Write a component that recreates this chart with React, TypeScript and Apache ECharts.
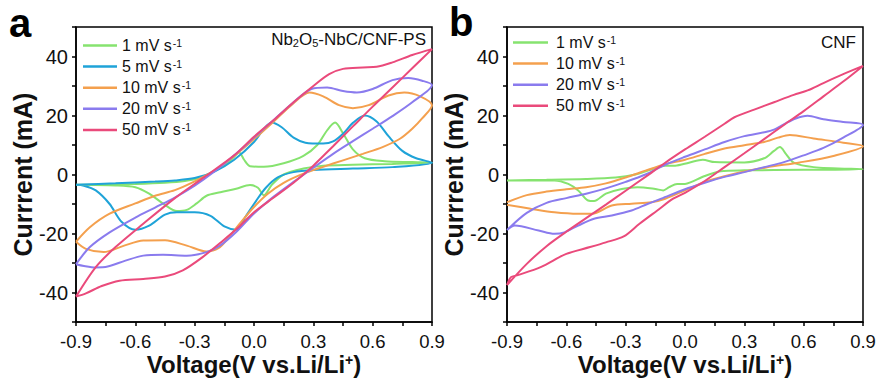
import React, { useEffect, useRef } from "react";
import * as echarts from "echarts";

type P = [number, number];

// Panel a: Nb2O5-NbC/CNF-PS
const a1Fwd: P[] = [[-0.9,-3.5],[-0.75,-3.4],[-0.6,-3.2],[-0.45,-2.8],[-0.35,-2.2],[-0.27,-1],[-0.2,1.2],[-0.14,3.5],[-0.1,6],[-0.075,7.5],[-0.05,5],[-0.02,2.8],[0.05,2.6],[0.15,3.8],[0.25,6.3],[0.32,10],[0.37,15],[0.41,17.6],[0.45,14],[0.5,8.5],[0.56,5.5],[0.66,4.5],[0.8,4.2],[0.9,4]];
const a1Rev: P[] = [[0.9,4],[0.7,3.6],[0.5,3.3],[0.35,3],[0.25,2],[0.15,0],[0.09,-3.5],[0.05,-7],[0.02,-4.5],[-0.02,-3.6],[-0.09,-4.8],[-0.17,-6],[-0.24,-7.2],[-0.29,-9.8],[-0.34,-12],[-0.39,-12.4],[-0.45,-10.3],[-0.53,-6.5],[-0.6,-4.3],[-0.7,-3.7],[-0.9,-3.5]];
const a5Fwd: P[] = [[-0.9,-3.5],[-0.7,-3],[-0.5,-2.4],[-0.4,-2],[-0.3,-1.2],[-0.2,1],[-0.1,5],[0,11],[0.05,15.5],[0.09,17.6],[0.14,16],[0.2,12.5],[0.26,10.8],[0.35,10.5],[0.4,11.2],[0.45,13.8],[0.5,17.5],[0.56,20],[0.62,18],[0.68,13],[0.75,8],[0.82,5.5],[0.9,4]];
const a5Rev: P[] = [[0.9,4],[0.7,2.5],[0.5,2],[0.3,1.5],[0.2,0.8],[0.12,-1],[0.06,-4.5],[0.01,-9],[-0.04,-14],[-0.09,-18.7],[-0.15,-17.6],[-0.22,-14],[-0.3,-12.8],[-0.39,-12.8],[-0.45,-13.6],[-0.53,-17.3],[-0.6,-18.7],[-0.67,-16],[-0.73,-10],[-0.8,-5.4],[-0.86,-3.8],[-0.9,-3.5]];
const a10Fwd: P[] = [[-0.9,-22.8],[-0.83,-17.9],[-0.73,-13.3],[-0.6,-9.8],[-0.5,-7.2],[-0.4,-5.3],[-0.3,-2.3],[-0.2,1.3],[-0.1,6.3],[0,12],[0.1,18],[0.2,24.2],[0.28,27.8],[0.35,26.5],[0.43,23.5],[0.5,22.5],[0.58,23.5],[0.68,26.8],[0.76,27.8],[0.84,26.5],[0.9,23.5]];
const a10Rev: P[] = [[0.9,23.5],[0.85,19],[0.8,15.5],[0.74,12.2],[0.65,9.3],[0.55,7],[0.45,4.8],[0.35,2.6],[0.25,0.3],[0.15,-2.8],[0.07,-6.5],[0,-11],[-0.07,-16.5],[-0.13,-21.5],[-0.18,-25],[-0.24,-26.1],[-0.34,-24.1],[-0.45,-22.3],[-0.56,-22.4],[-0.66,-24.2],[-0.76,-26.3],[-0.85,-25.2],[-0.9,-22.8]];
const a20Fwd: P[] = [[-0.9,-30.4],[-0.83,-24.6],[-0.73,-19.6],[-0.6,-14.6],[-0.5,-11.2],[-0.4,-7.8],[-0.3,-3.8],[-0.2,1],[-0.1,6.5],[0,12.5],[0.1,18.5],[0.2,24.5],[0.29,29],[0.37,29.5],[0.45,28.3],[0.52,27.8],[0.6,29],[0.7,32],[0.78,32.7],[0.85,31.8],[0.9,30.3]];
const a20Rev: P[] = [[0.9,30.3],[0.8,24.5],[0.7,19.8],[0.6,15.5],[0.5,11.3],[0.4,7],[0.3,2.3],[0.2,-2.5],[0.1,-7.5],[0,-13.2],[-0.09,-19.5],[-0.17,-24],[-0.24,-26.3],[-0.34,-27.5],[-0.46,-27.2],[-0.56,-27.5],[-0.65,-29.2],[-0.74,-31.2],[-0.8,-31.5],[-0.86,-31],[-0.9,-30.4]];
const a50Fwd: P[] = [[-0.9,-41.4],[-0.8,-31.4],[-0.7,-24.6],[-0.56,-16.7],[-0.4,-8],[-0.25,-0.8],[-0.1,6.5],[0,12.8],[0.1,18.5],[0.2,24.5],[0.3,30],[0.38,34],[0.45,35.8],[0.55,36.3],[0.62,36.5],[0.7,38],[0.8,40.5],[0.9,42.5]];
const a50Rev: P[] = [[0.9,42.5],[0.8,36],[0.7,29.5],[0.6,23],[0.5,16.3],[0.4,9.6],[0.3,3],[0.2,-2.8],[0.1,-7.8],[0,-12.8],[-0.08,-18],[-0.16,-22.6],[-0.26,-28],[-0.36,-32.5],[-0.45,-34.6],[-0.56,-35.4],[-0.68,-36],[-0.77,-37.8],[-0.85,-40.3],[-0.9,-41.4]];

// Panel b: CNF
const b1Fwd: P[] = [[-0.9,-2],[-0.7,-1.8],[-0.5,-1.5],[-0.35,-1],[-0.25,0],[-0.18,1.5],[-0.1,3],[-0.05,3],[0.02,4],[0.09,5],[0.15,4.2],[0.3,4.1],[0.4,5.5],[0.45,8],[0.48,9.3],[0.51,7],[0.55,4],[0.65,2.5],[0.9,1.8]];
const b1Rev: P[] = [[0.9,1.8],[0.6,1.6],[0.3,1.4],[0.18,1.1],[0.1,-0.5],[0.03,-2.6],[0,-3.2],[-0.04,-3.2],[-0.08,-4.3],[-0.11,-5.4],[-0.15,-4.9],[-0.24,-4.3],[-0.32,-4.9],[-0.4,-6.5],[-0.46,-9],[-0.49,-8.8],[-0.54,-5.4],[-0.59,-3.2],[-0.66,-2],[-0.9,-2]];
const b10Fwd: P[] = [[-0.9,-9.4],[-0.8,-7],[-0.7,-5.8],[-0.6,-5],[-0.5,-4.3],[-0.4,-3],[-0.3,-1],[-0.2,1.3],[-0.1,3.5],[0,5],[0.1,7],[0.2,8.8],[0.3,9.9],[0.4,11],[0.47,12.5],[0.53,13.4],[0.65,12.2],[0.8,10.8],[0.9,9.6]];
const b10Rev: P[] = [[0.9,9.6],[0.75,6.3],[0.58,4.1],[0.41,2.4],[0.24,0.1],[0.1,-2.5],[0,-5.4],[-0.1,-8.2],[-0.17,-9.4],[-0.27,-9.9],[-0.37,-10.5],[-0.47,-13.3],[-0.54,-13.3],[-0.66,-12.8],[-0.78,-11.6],[-0.9,-10.3]];
const b20Fwd: P[] = [[-0.9,-18.8],[-0.8,-13],[-0.7,-9.6],[-0.6,-8],[-0.5,-6.5],[-0.4,-4.7],[-0.3,-2.5],[-0.2,0],[-0.1,3.3],[0,6],[0.1,8.5],[0.2,11],[0.3,13],[0.4,14.3],[0.45,15.2],[0.5,17],[0.56,19],[0.62,19.9],[0.7,18.7],[0.8,17.8],[0.9,16.8]];
const b20Rev: P[] = [[0.9,16.8],[0.8,12.5],[0.7,9],[0.6,6.5],[0.5,4.2],[0.4,2.5],[0.3,0.8],[0.2,-0.8],[0.1,-2.8],[0,-5],[-0.12,-8.2],[-0.19,-10],[-0.27,-12.2],[-0.37,-13.9],[-0.46,-15],[-0.54,-17.3],[-0.61,-19.6],[-0.66,-20.1],[-0.74,-19],[-0.86,-17.3],[-0.9,-18.8]];
const b50Fwd: P[] = [[-0.9,-37.5],[-0.8,-30.3],[-0.7,-24.3],[-0.6,-19.4],[-0.5,-14.8],[-0.4,-10.2],[-0.3,-5.5],[-0.2,-0.8],[-0.1,4],[0,8.5],[0.1,12.8],[0.2,17.2],[0.25,19.4],[0.35,22],[0.45,24.5],[0.55,27],[0.62,28.5],[0.7,31],[0.8,34],[0.9,36.8]];
const b50Rev: P[] = [[0.9,36.8],[0.8,31.5],[0.7,26.5],[0.6,21.5],[0.5,16.8],[0.4,12],[0.3,7.2],[0.2,2.5],[0.1,-2.2],[0,-6.2],[-0.06,-8.2],[-0.14,-12.2],[-0.23,-16.7],[-0.31,-21],[-0.4,-23],[-0.48,-24.6],[-0.6,-26.9],[-0.73,-31.4],[-0.85,-34.2],[-0.88,-34.8],[-0.9,-37.5]];

const ratesA = ["1", "5", "10", "20", "50"];
const ratesB = ["1", "10", "20", "50"];
const loopsA: P[][][] = [[a1Fwd, a1Rev], [a5Fwd, a5Rev], [a10Fwd, a10Rev], [a20Fwd, a20Rev], [a50Fwd, a50Rev]];
const loopsB: P[][][] = [[b1Fwd, b1Rev], [b10Fwd, b10Rev], [b20Fwd, b20Rev], [b50Fwd, b50Rev]];
const rateColors: Record<string, string> = { "1": "#86e36f", "5": "#1fa3d8", "10": "#f4a04e", "20": "#8a7bee", "50": "#ea4a7b" };

const xTickLabels = [-0.9, -0.6, -0.3, 0.0, 0.3, 0.6, 0.9];
const yTickLabels = [-40, -20, 0, 20, 40];

const FONT = '"Liberation Sans", Arial, Helvetica, sans-serif';

export default function App() {
  const ref = useRef<HTMLDivElement>(null);
  useEffect(() => {
    if (!ref.current) return;
    const chart = echarts.init(ref.current, null, { renderer: "svg" });
    const grids = [
      { left: 76, top: 27, width: 356, height: 295 },
      { left: 507, top: 27, width: 356, height: 295 },
    ];
    const axisLineStyle = { color: "#000", width: 1.5 };
    const xAxes = grids.map((_, i) => ({
      type: "value",
      gridIndex: i,
      min: -0.9,
      max: 0.9,
      interval: 0.15,
      axisLine: { show: true, onZero: false, lineStyle: axisLineStyle },
      axisTick: { show: true, length: 4, lineStyle: axisLineStyle },
      splitLine: { show: false },
      axisLabel: {
        fontSize: 18.5,
        lineHeight: 17,
        color: "#111",
        fontFamily: FONT,
        margin: 11,
        formatter: (v: number) => {
          const hit = xTickLabels.find((t) => Math.abs(t - v) < 1e-6);
          return hit === undefined ? "" : hit.toFixed(1);
        },
      },
    }));
    const yAxes = grids.map((_, i) => ({
      type: "value",
      gridIndex: i,
      min: -50,
      max: 50,
      interval: 10,
      axisLine: { show: true, onZero: false, lineStyle: axisLineStyle },
      axisTick: { show: true, length: 4, lineStyle: axisLineStyle },
      splitLine: { show: false },
      axisLabel: {
        fontSize: 20,
        color: "#111",
        fontFamily: FONT,
        margin: 8,
        formatter: (v: number) => (yTickLabels.includes(Math.round(v)) ? String(Math.round(v)) : ""),
      },
      name: "Currrent (mA)",
      nameLocation: "middle",
      nameGap: 33,
      nameTextStyle: { fontSize: 25, fontWeight: "bold", color: "#111", fontFamily: FONT },
    }));

    const mkSeries = (rates: string[], loops: P[][][], gi: number) =>
      rates.map((r, k) => ({
        type: "line",
        name: `${r} mV s-1`,
        xAxisIndex: gi,
        yAxisIndex: gi,
        data: [...loops[k][0], ...loops[k][1].slice(1)],
        symbol: "none",
        smooth: 0.3,
        lineStyle: { width: 2, color: rateColors[r] },
        itemStyle: { color: rateColors[r] },
        z: 2 + k,
      }));

    const legendText = {
      fontFamily: FONT,
      rich: {
        t: { fontSize: 16, lineHeight: 16, color: "#111", fontFamily: FONT },
        s: { fontSize: 10.5, color: "#111", fontFamily: FONT, verticalAlign: "top", padding: [0, 0, 6, 1] },
      },
    };
    const legendFmt = (name: string) => `{t|${name.replace(" s-1", " s")}}{s|-1}`;

    const xNameRich = {
      a: { fontSize: 24, lineHeight: 22, fontWeight: "bold", fontFamily: FONT, fill: "#111", color: "#111" },
      s: { fontSize: 14, lineHeight: 14, fontWeight: "bold", fontFamily: FONT, fill: "#111", color: "#111", verticalAlign: "top" },
    };
    const xNameText = "{a|Voltage(V vs.Li/Li}{s|+}{a|)}";

    const option = {
      animation: false,
      backgroundColor: "#fff",
      grid: grids.map((g) => ({
        ...g,
        show: true,
        borderColor: "#000",
        borderWidth: 1.5,
        backgroundColor: "transparent",
        containLabel: false,
        outerBoundsMode: "none",
      })),
      xAxis: xAxes,
      yAxis: yAxes,
      legend: [
        {
          data: ratesA.map((r) => `${r} mV s-1`),
          orient: "vertical",
          left: 83,
          top: 37,
          padding: 0,
          itemWidth: 34,
          itemHeight: 2.5,
          icon: "rect",
          itemGap: 4.6,
          textStyle: legendText,
          formatter: legendFmt,
          selectedMode: false,
        },
        {
          data: ratesB.map((r) => `${r} mV s-1`),
          orient: "vertical",
          left: 513,
          top: 34,
          padding: 0,
          itemWidth: 35,
          itemHeight: 2.5,
          icon: "rect",
          itemGap: 4.6,
          textStyle: { ...legendText, padding: [0, 0, 0, 3] },
          formatter: legendFmt,
          selectedMode: false,
        },
      ],
      graphic: [
        { type: "text", left: 9, top: 3, style: { text: "a", font: `bold 40px ${FONT}`, fill: "#000" } },
        { type: "text", left: 449, top: 2, style: { text: "b", font: `bold 40px ${FONT}`, fill: "#000" } },
        {
          type: "text",
          right: 879 - 426,
          top: 31,
          style: {
            text: "{m|Nb}{d|2}{m|O}{d|5}{m|-NbC/CNF-PS}",
            rich: {
              m: { fontSize: 17, fontFamily: FONT, fill: "#111", color: "#111" },
              d: { fontSize: 11, fontFamily: FONT, fill: "#111", color: "#111", verticalAlign: "bottom" },
            },
          },
        },
        { type: "text", right: 879 - 856, top: 34, style: { text: "CNF", font: `17px ${FONT}`, fill: "#111" } },
        {
          type: "text",
          x: 254,
          y: 364,
          style: { text: xNameText, rich: xNameRich, align: "center", verticalAlign: "middle" },
        },
        {
          type: "text",
          x: 685,
          y: 364,
          style: { text: xNameText, rich: xNameRich, align: "center", verticalAlign: "middle" },
        },
      ],
      series: [...mkSeries(ratesA, loopsA, 0), ...mkSeries(ratesB, loopsB, 1)],
    };
    chart.setOption(option as any);
    return () => chart.dispose();
  }, []);
  return <div ref={ref} style={{ position: "fixed", left: 0, top: 0, width: 879, height: 380 }} />;
}
